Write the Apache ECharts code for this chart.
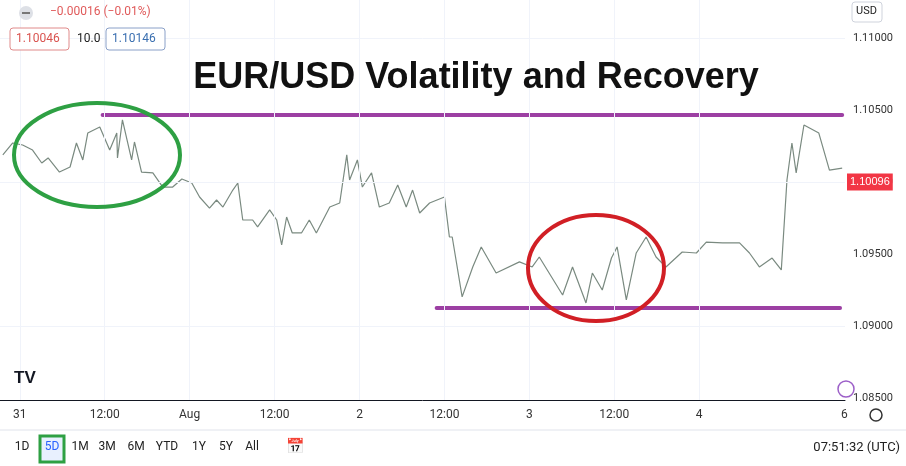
<!DOCTYPE html>
<html>
<head>
<meta charset="utf-8">
<script src="https://cdn.jsdelivr.net/npm/echarts@6/dist/echarts.min.js"></script>
<style>
  html, body { margin: 0; padding: 0; background: #fff; }
  #chart { width: 906px; height: 466px; }
</style>
</head>
<body>
<div id="chart"></div>
<script>
// hours since Jul 31 00:00 (weekend compressed as on the chart)
var hours = [-2.4, -1.0, 0.4, 1.8, 3.1, 4.0, 5.6, 7.1, 8.0, 8.9, 9.6, 11.3, 12.7, 13.7, 13.8, 14.5, 15.8, 16.2, 17.2, 18.8,
  20.2, 21.6, 22.9, 24.3, 25.4, 26.8, 27.8, 28.7, 30.1, 30.8, 31.5, 32.9, 33.6, 35.3, 36.3, 37.0, 37.7, 38.5, 39.8, 40.9,
  41.9, 43.8, 45.2, 46.2, 46.6, 47.7, 48.4, 49.7, 50.8, 52.2, 53.4, 54.6, 55.5, 56.5, 57.9, 60.0, 60.7, 61.1, 62.5, 64.0,
  65.2, 67.3, 70.6, 72.4, 73.4, 76.7, 78.1, 80.0, 80.9, 82.3, 83.6, 84.4, 85.7, 87.1, 88.5, 89.9, 91.3, 93.6, 95.6, 97.0,
  99.3, 101.7, 103.1, 104.5, 106.3, 107.6, 108.4, 109.1, 109.7, 110.8, 112.9, 114.4, 116.2];
var prices = [1.10188, 1.10271, 1.10257, 1.10222, 1.10132, 1.10167, 1.10069, 1.10104, 1.10271, 1.10153, 1.10340, 1.10382, 1.10222, 1.10340, 1.10167, 1.10431, 1.10153, 1.10278, 1.10069, 1.10063,
  1.09965, 1.09965, 1.10021, 1.09993, 1.09896, 1.09819, 1.09875, 1.09826, 1.09944, 1.09993, 1.09736, 1.09736, 1.09688, 1.09806, 1.09736, 1.09563, 1.09757, 1.09646, 1.09646, 1.09736,
  1.09646, 1.09826, 1.09854, 1.10188, 1.10014, 1.10153, 1.09965, 1.10063, 1.09826, 1.09854, 1.09979, 1.09826, 1.09944, 1.09785, 1.09854, 1.09896, 1.09618, 1.09618, 1.09202, 1.09410,
  1.09549, 1.09368, 1.09445, 1.09410, 1.09479, 1.09215, 1.09410, 1.09160, 1.09368, 1.09250, 1.09472, 1.09549, 1.09181, 1.09507, 1.09618, 1.09479, 1.09410, 1.09514, 1.09507, 1.09583,
  1.09577, 1.09577, 1.09507, 1.09410, 1.09472, 1.09389, 1.10014, 1.10271, 1.10063, 1.10396, 1.10340, 1.10083, 1.10097];
var xTicks = [0, 12, 24, 36, 48, 60, 72, 84, 96, 116.5];
var xTickLabels = ['31', '12:00', 'Aug', '12:00', '2', '12:00', '3', '12:00', '4', '6'];
var yTicks = [1.085, 1.09, 1.095, 1.10, 1.105, 1.11];
var resistance = { from: 11.7, to: 116.2, price: 1.10465 };
var support = { from: 58.9, to: 115.9, price: 1.09125 };
var lastPrice = 1.10096;
var periods = ['1D', '5D', '1M', '3M', '6M', 'YTD', '1Y', '5Y', 'All'];

var chart = echarts.init(document.getElementById('chart'));
var font = 'Roboto, Arial, sans-serif';
var periodX = [22, 52, 80, 107, 136, 167, 199, 226, 252];
var graphics = [
  { type: 'text', x: 476, y: 60, style: { text: 'EUR/USD Volatility and Recovery', font: 'bold 36px Arial, "Liberation Sans", sans-serif', fill: '#111', align: 'center' }, z: 10 },
  { type: 'ellipse', shape: { cx: 97, cy: 155, rx: 83, ry: 52 }, style: { fill: 'none', stroke: '#2ea043', lineWidth: 4 }, z: 10 },
  { type: 'ellipse', shape: { cx: 596, cy: 268, rx: 68, ry: 53 }, style: { fill: 'none', stroke: '#d11f25', lineWidth: 4 }, z: 10 },
  { type: 'circle', shape: { cx: 26, cy: 13, r: 7 }, style: { fill: '#dde0e6' }, z: 10 },
  { type: 'rect', shape: { x: 22, y: 12, width: 8, height: 2 }, style: { fill: '#777' }, z: 11 },
  { type: 'text', x: 50, y: 6, style: { text: '\u22120.00016 (\u22120.01%)', font: '12px ' + font, fill: '#e05a5a' }, z: 10 },
  { type: 'rect', shape: { x: 10, y: 28, width: 59, height: 22, r: 3 }, style: { fill: '#fff', stroke: '#e08a8a' }, z: 10 },
  { type: 'text', x: 16, y: 33, style: { text: '1.10046', font: '12px ' + font, fill: '#d9534f' }, z: 11 },
  { type: 'text', x: 77, y: 33, style: { text: '10.0', font: '12px ' + font, fill: '#222' }, z: 11 },
  { type: 'rect', shape: { x: 106, y: 28, width: 59, height: 22, r: 3 }, style: { fill: '#fff', stroke: '#8aa0c8' }, z: 10 },
  { type: 'text', x: 112, y: 33, style: { text: '1.10146', font: '12px ' + font, fill: '#3a6fb0' }, z: 11 },
  { type: 'rect', shape: { x: 852, y: 2, width: 30, height: 20, r: 3 }, style: { fill: '#fff', stroke: '#cfd3dc' }, z: 10 },
  { type: 'text', x: 856, y: 6, style: { text: 'USD', font: '11px ' + font, fill: '#222' }, z: 11 },
  { type: 'text', x: 14, y: 370, style: { text: 'TV', font: 'bold 17px Arial', fill: '#131722' }, z: 10 },
  { type: 'circle', shape: { cx: 846, cy: 389, r: 8 }, style: { fill: 'none', stroke: '#9c5fc8', lineWidth: 1.5 }, z: 10 },
  { type: 'circle', shape: { cx: 876, cy: 415, r: 6 }, style: { fill: 'none', stroke: '#333', lineWidth: 1.5 }, z: 10 },
  { type: 'line', shape: { x1: 0, y1: 430, x2: 906, y2: 430 }, style: { stroke: '#e0e3eb' }, z: 10 },
  { type: 'rect', shape: { x: 40, y: 436, width: 24, height: 26 }, style: { fill: '#e8f0fe', stroke: '#2ea043', lineWidth: 3 }, z: 10 },
  { type: 'text', x: 286, y: 440, style: { text: '\u{1F4C5}', font: '15px "DejaVu Sans"', fill: '#333' }, z: 10 },
  { type: 'text', right: 6, y: 441, style: { text: '07:51:32 (UTC)', font: '13px ' + font, fill: '#222' }, z: 10 }
];
periods.forEach(function (p, i) {
  graphics.push({ type: 'text', x: periodX[i], y: 441, style: { text: p, font: '12px ' + font, fill: i === 1 ? '#2962ff' : '#222', align: 'center' }, z: 11 });
});

chart.setOption({
  animation: false,
  backgroundColor: '#fff',
  grid: { left: 0, right: 61, top: 0, bottom: 66 },
  xAxis: {
    type: 'value', min: -2.8, max: 116.6,
    axisLine: { show: true, lineStyle: { color: '#131722' } },
    axisTick: { show: false },
    splitLine: { show: false },
    axisLabel: {
      customValues: xTicks, color: '#333', fontFamily: font, fontSize: 12, margin: 9,
      formatter: function (v) { return xTickLabels[xTicks.indexOf(v)]; }
    }
  },
  yAxis: {
    type: 'value', position: 'right', min: 1.08486, max: 1.11264,
    axisLine: { show: true, lineStyle: { color: '#131722' } },
    axisTick: { show: false },
    splitLine: { show: false },
    axisLabel: {
      customValues: yTicks, color: '#333', fontFamily: font, fontSize: 11, margin: 8,
      formatter: function (v) { return v.toFixed(5); }
    }
  },
  graphic: graphics,
  series: [
    {
      type: 'line', data: hours.map(function (h, i) { return [h, prices[i]]; }),
      showSymbol: false, lineStyle: { color: '#7a8a80', width: 1.2 },
      markLine: {
        silent: true, symbol: 'none',
        label: {
          show: true, position: 'end', formatter: lastPrice.toFixed(5), color: '#fff',
          backgroundColor: '#f23645', padding: [3, 3], fontSize: 11, distance: 2
        },
        lineStyle: { color: '#555', type: [1, 3], width: 1 },
        data: [{ yAxis: lastPrice }]
      }
    },
    {
      type: 'line', data: [[resistance.from, resistance.price], [resistance.to, resistance.price]],
      showSymbol: false, lineStyle: { color: '#9c3fa3', width: 4, cap: 'round' }
    },
    {
      type: 'line', data: [[support.from, support.price], [support.to, support.price]],
      showSymbol: false, lineStyle: { color: '#9c3fa3', width: 4, cap: 'round' }
    },
    {
      type: 'line', data: [], markLine: {
        silent: true, symbol: 'none', label: { show: false },
        lineStyle: { color: '#f0f3fa', type: 'solid', width: 1 },
        data: xTicks.slice(0, 9).map(function (v) { return { xAxis: v }; })
          .concat(yTicks.map(function (v) { return { yAxis: v }; }))
      }, z: 0
    }
  ]
});
</script>
</body>
</html>
